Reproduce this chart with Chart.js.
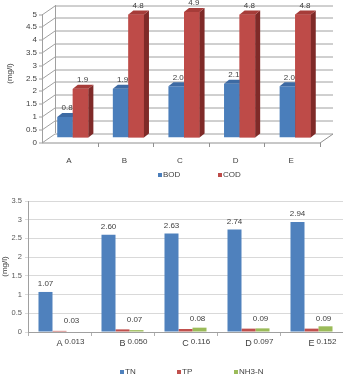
<!DOCTYPE html>
<html>
<head>
<meta charset="utf-8">
<script src="https://cdn.jsdelivr.net/npm/chart.js@4.4.1/dist/chart.umd.min.js"></script>
<style>
  html, body { margin: 0; padding: 0; background: #fff; width: 343px; height: 374px; overflow: hidden; }
  #w1 { height: 190px; }
  #w2 { height: 184px; overflow: hidden; }
  canvas { display: block; }
</style>
</head>
<body>
<div id="w1"><canvas id="c1" width="343" height="190"></canvas></div>
<div id="w2"><canvas id="c2" width="343" height="192"></canvas></div>
<script>
// sites along the x axis
var sites = ['A', 'B', 'C', 'D', 'E'];

// top chart (mg/l)
var bod = [0.8, 1.9, 2.0, 2.1, 2.0];
var cod = [1.9, 4.8, 4.9, 4.8, 4.8];
var yTicks1 = ['0', '0.5', '1', '1.5', '2', '2.5', '3', '3.5', '4', '4.5', '5'];

// bottom chart (mg/l)
var tn = [1.07, 2.60, 2.63, 2.74, 2.94];
var tp = [0.03, 0.07, 0.08, 0.09, 0.09];
var nh3 = [0.013, 0.050, 0.116, 0.097, 0.152];
var yTicks2 = ['0', '0.5', '1', '1.5', '2', '2.5', '3', '3.5'];

var FONT = '"Liberation Sans", Arial, sans-serif';
var TXT = '#404040';
Chart.defaults.font.family = FONT;
Chart.defaults.font.size = 8;
Chart.defaults.color = TXT;

function poly(ctx, pts, fill) {
  ctx.beginPath();
  ctx.moveTo(pts[0][0], pts[0][1]);
  for (var i = 1; i < pts.length; i++) ctx.lineTo(pts[i][0], pts[i][1]);
  ctx.closePath();
  ctx.fillStyle = fill;
  ctx.fill();
}

// small square legend, drawn under the chart
function boxLegend(startX, y, step) {
  return {
    id: 'boxLegend',
    afterDraw: function(chart) {
      var ctx = chart.ctx;
      ctx.save();
      ctx.font = '8px ' + FONT;
      ctx.textBaseline = 'middle';
      ctx.textAlign = 'left';
      chart.data.datasets.forEach(function(ds, i) {
        var x = startX + i * step;
        ctx.fillStyle = ds.backgroundColor;
        ctx.fillRect(x, y - 2, 4, 4);
        ctx.fillStyle = TXT;
        ctx.fillText(ds.label, x + 5, y);
      });
      ctx.restore();
    }
  };
}

// fake 3d walls + bar sides for the top chart
var FX = -3, BX = 10, DY = 4.5;
var wall3d = {
  id: 'wall3d',
  beforeDatasetsDraw: function(chart) {
    var ctx = chart.ctx, a = chart.chartArea, ys = chart.scales.y;
    var L = a.left, R = a.right;
    var y0 = ys.getPixelForValue(0), yTop = ys.getPixelForValue(parseFloat(yTicks1[yTicks1.length - 1]));
    ctx.save();
    ctx.lineWidth = 1;
    ctx.strokeStyle = '#a0a0a0';
    ctx.font = '8px ' + FONT;
    ctx.fillStyle = TXT;
    ctx.textAlign = 'right';
    ctx.textBaseline = 'middle';
    yTicks1.forEach(function(t) {
      var ym = Math.round(ys.getPixelForValue(parseFloat(t))) + 0.5;
      ctx.beginPath();
      ctx.moveTo(L + FX - 3, ym + DY);
      ctx.lineTo(L + FX, ym + DY);
      ctx.lineTo(L + BX, ym - DY);
      ctx.lineTo(R + BX, ym - DY);
      ctx.stroke();
      ctx.fillText(t, L + FX - 5, ym + DY);
    });
    // front axis + back wall edge
    ctx.beginPath();
    ctx.moveTo(L + FX + 0.5, y0 + DY); ctx.lineTo(L + FX + 0.5, yTop + DY);
    ctx.moveTo(L + BX + 0.5, y0 - DY); ctx.lineTo(L + BX + 0.5, yTop - DY);
    ctx.stroke();
    // floor front edge
    var yf = Math.round(y0) + 0.5 + DY;
    ctx.strokeStyle = '#909090';
    ctx.beginPath();
    ctx.moveTo(L + FX, yf);
    ctx.lineTo(R + FX, yf);
    ctx.lineTo(R + BX, yf - 2 * DY);
    var cw = (R - L) / sites.length;
    for (var i = 1; i <= sites.length; i++) {
      var xb = Math.round(L + i * cw + FX) + 0.5;
      ctx.moveTo(xb, yf); ctx.lineTo(xb, yf + 4);
    }
    ctx.stroke();
    // axis title
    ctx.translate(10, (a.top + a.bottom) / 2);
    ctx.rotate(-Math.PI / 2);
    ctx.textAlign = 'center';
    ctx.fillText('(mg/l)', 0, 0);
    ctx.restore();
  },
  afterDatasetsDraw: function(chart) {
    var ctx = chart.ctx, D = 5, H = 4;
    ctx.save();
    chart.data.datasets.forEach(function(ds, di) {
      var meta = chart.getDatasetMeta(di);
      meta.data.forEach(function(b) {
        if (di > 0) b.draw(ctx);
        var p = b.getProps(['x', 'y', 'base', 'width'], true);
        var l = p.x - p.width / 2, r = p.x + p.width / 2;
        poly(ctx, [[r, p.y], [r + D, p.y - H], [r + D, p.base - H], [r, p.base]], ds.sideColor);
        poly(ctx, [[l, p.y], [l + D, p.y - H], [r + D, p.y - H], [r, p.y]], ds.topColor);
      });
    });
    ctx.font = '8px ' + FONT;
    ctx.fillStyle = TXT;
    ctx.textAlign = 'center';
    ctx.textBaseline = 'middle';
    chart.data.datasets.forEach(function(ds, di) {
      chart.getDatasetMeta(di).data.forEach(function(b, i) {
        var p = b.getProps(['x', 'y'], true);
        ctx.fillText(ds.data[i].toFixed(1), p.x + 2, p.y - 9);
      });
    });
    ctx.restore();
  }
};

new Chart(document.getElementById('c1'), {
  type: 'bar',
  data: {
    labels: sites,
    datasets: [
      { label: 'BOD', data: bod, backgroundColor: '#4a7ebb', sideColor: '#2c4f7c', topColor: '#3d6aa3' },
      { label: 'COD', data: cod, backgroundColor: '#be4b48', sideColor: '#7f2a28', topColor: '#a63c39' }
    ]
  },
  options: {
    responsive: false,
    devicePixelRatio: 1,
    animation: false,
    layout: { padding: { left: 45, right: 20, top: 9.5, bottom: 0 } },
    datasets: { bar: { barPercentage: 1, categoryPercentage: 0.56 } },
    plugins: { legend: { display: false }, tooltip: { enabled: false } },
    scales: {
      x: {
        grid: { display: false },
        border: { display: false },
        ticks: { padding: 10.5, labelOffset: -4, color: TXT, font: { size: 8 } },
        afterFit: function(s) { s.height = 52.5; }
      },
      y: { display: false, min: 0, max: 5 }
    }
  },
  plugins: [wall3d, boxLegend(158, 175, 60)]
});

// value labels for the bottom chart
var labels2 = {
  id: 'labels2',
  afterDatasetsDraw: function(chart) {
    var ctx = chart.ctx, a = chart.chartArea;
    var mTN = chart.getDatasetMeta(0).data, mTP = chart.getDatasetMeta(1).data, mNH = chart.getDatasetMeta(2).data;
    ctx.save();
    ctx.font = '8px ' + FONT;
    ctx.fillStyle = TXT;
    ctx.textAlign = 'center';
    ctx.textBaseline = 'middle';
    sites.forEach(function(s, i) {
      ctx.fillText(tn[i].toFixed(2), mTN[i].x, mTN[i].y - 8);
      ctx.fillText(tp[i].toFixed(2), mTP[i].x + 12, mTP[i].y - 10);
      ctx.fillText(nh3[i].toFixed(3), mNH[i].x + 1, a.bottom + 10);
    });
    ctx.restore();
  }
};

new Chart(document.getElementById('c2'), {
  type: 'bar',
  data: {
    labels: sites,
    datasets: [
      { label: 'TN', data: tn, backgroundColor: '#4f81bd' },
      { label: 'TP', data: tp, backgroundColor: '#c0504d' },
      { label: 'NH3-N', data: nh3, backgroundColor: '#9bbb59' }
    ]
  },
  options: {
    responsive: false,
    devicePixelRatio: 1,
    animation: false,
    layout: { padding: { left: 0, right: 0, top: 11, bottom: 0 } },
    datasets: { bar: { barPercentage: 1, categoryPercentage: 0.667 } },
    plugins: { legend: { display: false }, tooltip: { enabled: false } },
    scales: {
      x: {
        grid: { display: true, drawOnChartArea: false, tickLength: 4, color: '#b0b0b0' },
        border: { display: true, color: '#a0a0a0' },
        ticks: { padding: 2, color: TXT, font: { size: 9 } },
        afterFit: function(s) { s.height = 50; }
      },
      y: {
        min: 0, max: 3.5,
        grid: { color: '#d9d9d9', tickLength: 3 },
        border: { display: true, color: '#a0a0a0' },
        ticks: {
          stepSize: 0.5, padding: 3, color: '#595959', font: { size: 7.5 },
          callback: function(v, i) { return yTicks2[i]; }
        },
        title: { display: true, text: '(mg/l)', color: TXT, font: { size: 8 }, padding: 0 },
        afterFit: function(s) { s.width = 28; }
      }
    }
  },
  plugins: [labels2, boxLegend(120, 182, 57)]
});
</script>
</body>
</html>
